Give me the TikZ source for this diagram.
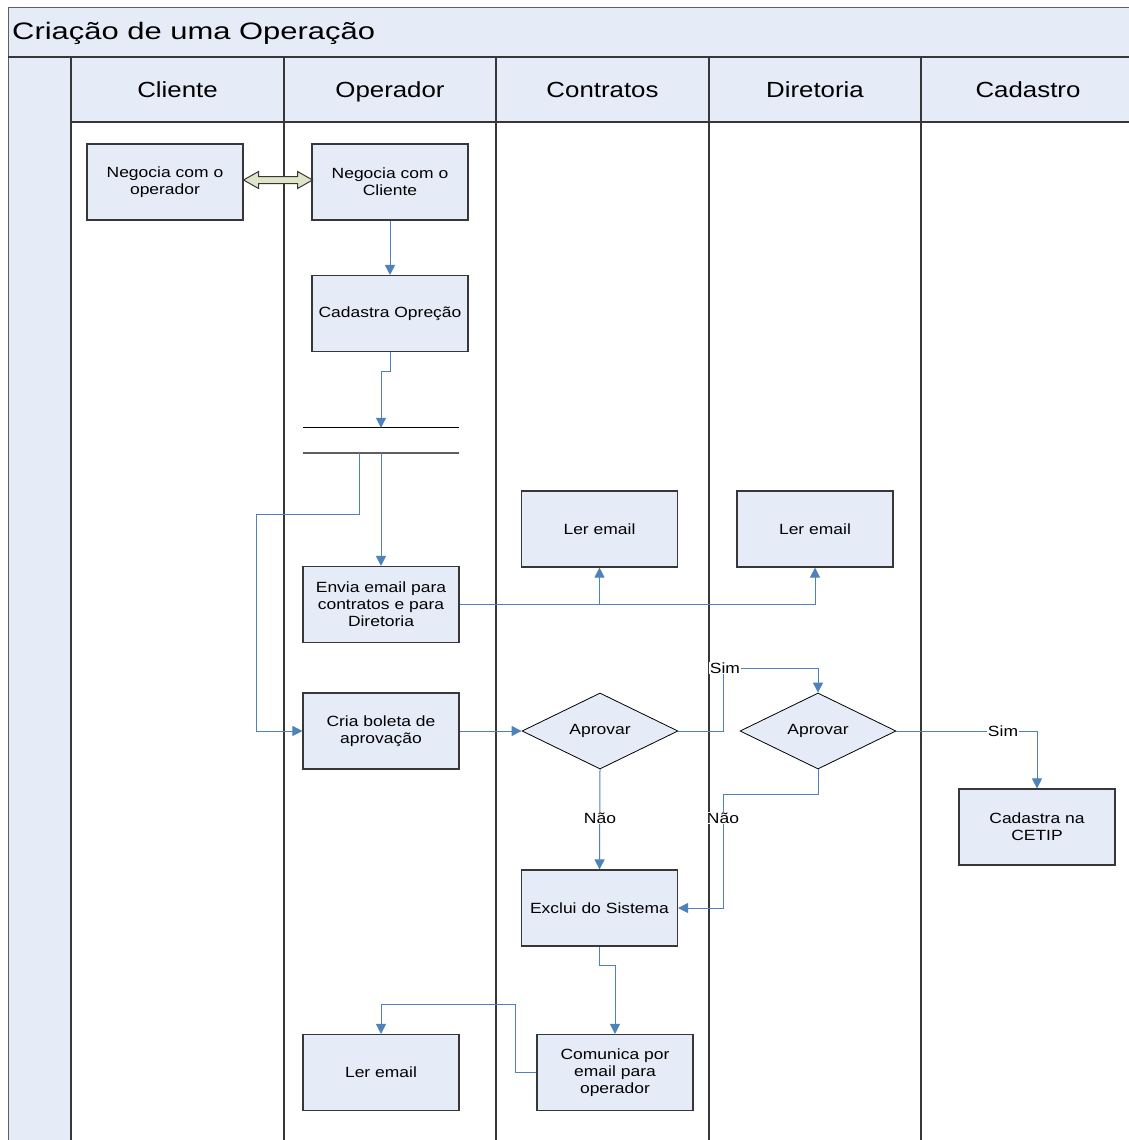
\documentclass[tikz,border=0pt]{standalone}
\usepackage{fontspec}
\setmainfont{Liberation Sans}[FakeStretch=1.18]
\newfontfamily\titlefont{Liberation Sans}[FakeStretch=1.3]
\usetikzlibrary{arrows.meta,shapes.geometric}

\definecolor{lanefill}{RGB}{230,236,247}
\definecolor{boxfill}{RGB}{230,236,247}
\definecolor{flow}{RGB}{79,129,189}
\definecolor{edge}{RGB}{55,55,55}
\definecolor{dblfill}{RGB}{222,229,200}

\begin{document}
\begin{tikzpicture}[x=1pt,y=-1pt,
  boxtext/.style={font=\fontsize{14.8}{17}\selectfont},
  task/.style={boxtext, draw=edge, line width=1.1pt, fill=boxfill,
    minimum width=156pt, minimum height=76pt, inner sep=2pt,
    text width=150pt, align=center},
  decision/.style={boxtext, diamond, draw=black, line width=0.8pt, fill=boxfill,
    minimum width=156pt, minimum height=76pt, inner sep=0pt},
  flowline/.style={draw=flow, line width=1pt, -{Triangle[length=10pt,width=10pt]}},
  lbl/.style={boxtext, fill=white, inner sep=1pt},
  lanehead/.style={font=\fontsize{21.9}{26}\selectfont, anchor=base},
  laneline/.style={draw=edge, line width=1.5pt},
  dblarrow/.style={draw=edge, line width=1pt, fill=dblfill, line join=miter}
]
\useasboundingbox (0,0) rectangle (1129,1140);
\begin{scope}
\clip (0,0) rectangle (1129,1140);
\fill[white] (0,0) rectangle (1129,1140);

% swimlane frame
\fill[lanefill] (8,8) rectangle (1140,57);
\fill[lanefill] (8,57) rectangle (71,1150);
\fill[lanefill] (71,57) rectangle (1140,122);
\draw[draw=edge!80, line width=1pt] (1140,8) -- (8,8) -- (8,1150);
\draw[draw=edge, line width=2pt] (8,57) -- (1140,57);
\draw[laneline] (71,122) -- (1140,122);
\foreach \lx in {71,284,496,709,921}
  \draw[laneline] (\lx,57) -- (\lx,1150);

\node[font=\titlefont\fontsize{23.8}{28}\selectfont, anchor=base west, inner sep=0pt]
  (title) at (12,40) {Criação de uma Operação};
\node[lanehead] (hCli) at (177.5,97) {Cliente};
\node[lanehead] (hOp) at (390,97) {Operador};
\node[lanehead] (hCon) at (602.5,97) {Contratos};
\node[lanehead] (hDir) at (815,97) {Diretoria};
\node[lanehead] (hCad) at (1028,97) {Cadastro};

% activities
\node[task] (negCli) at (165,182) {Negocia com o\\operador};
\node[task] (negOp) at (390,182) {Negocia com o\\Cliente};
\node[task] (cadOp) at (390,313.5) {Cadastra Opreção};
\node[minimum width=156pt, minimum height=25pt, inner sep=0pt] (fork) at (381,440.5) {};
\node[task] (envia) at (381,604.5) {Envia email para\\contratos e para\\Diretoria};
\node[task] (lerC) at (599.5,529) {Ler email};
\node[task] (lerD) at (815,529) {Ler email};
\node[task] (cria) at (381,731) {Cria boleta de\\aprovação};
\node[decision] (apC) at (600,731) {Aprovar};
\node[decision] (apD) at (818,731) {Aprovar};
\node[task] (cetip) at (1037,827) {Cadastra na\\CETIP};
\node[task] (exclui) at (599.5,908) {Exclui do Sistema};
\node[task] (comunica) at (615,1072.5) {Comunica por\\email para\\operador};
\node[task] (lerOp) at (381,1072.5) {Ler email};

% fork bar
\draw[black, line width=1pt] (fork.north west) -- (fork.north east);
\draw[gray!75!black, line width=1.8pt] (fork.south west) -- (fork.south east);

% two-way negotiation arrow
\path (negCli.east) ++(0,-2) coordinate (dl);
\draw[dblarrow] (dl) -- ++(15,-8.5) -- ++(0,5) -- ++(39,0) -- ++(0,-5)
  -- ++(15,8.5) -- ++(-15,8.5) -- ++(0,-5) -- ++(-39,0) -- ++(0,5) -- cycle;

% flow
\draw[flowline] (negOp.south) -- (cadOp.north);
\draw[flowline] (cadOp.south) -- ++(0,19.5) -| (fork.north);
\draw[flowline] (fork.south) -- (envia.north);
\draw[flowline] ([xshift=-22pt]fork.south) -- ++(0,61) -- ++(-103,0) |- (cria.west);
\draw[flowline] (envia.east) -| (lerC.south);
\draw[flowline] (envia.east) -| (lerD.south);
\draw[flowline] (cria.east) -- (apC.west);
\draw[flowline] (apC.east) -- ++(45,0) -- ++(0,-63) -| (apD.north);
\draw[flowline] (apD.east) -| (cetip.north);
\draw[flowline] (apC.south) -- (exclui.north);
\draw[flowline] (apD.south) -- ++(0,25) -- ++(-95,0) |- (exclui.east);
\draw[flowline] (exclui.south) -- ++(0,19) -| (comunica.north);
\draw[flowline] (comunica.west) -- ++(-21,0) -- ++(0,-68.5) -| (lerOp.north);

% branch labels
\node[lbl] (simC) at (725,668) {Sim};
\node[lbl] (simD) at (1003,731) {Sim};
\node[lbl] (naoC) at (600,818) {Não};
\node[lbl] (naoD) at (723,818) {Não};
\end{scope}
\end{tikzpicture}
\end{document}
